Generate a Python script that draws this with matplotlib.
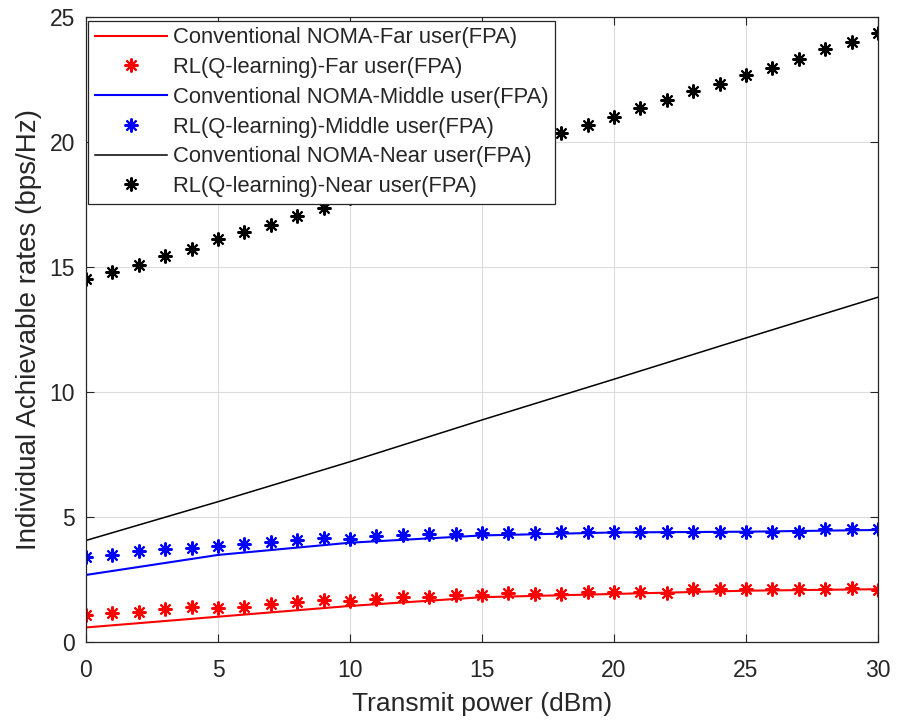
import numpy as np
import matplotlib
matplotlib.use("Agg")
import matplotlib.pyplot as plt

plt.rcParams['font.family'] = ['Liberation Sans', 'DejaVu Sans']

# Transmit power grid (dBm)
power_rl = list(range(0, 31))
power_conv = [0, 5, 10, 15, 20, 25, 30]

# Conventional NOMA rates (bps/Hz)
conv_far = [0.57, 1.00, 1.43, 1.78, 1.91, 2.04, 2.10]
conv_middle = [2.67, 3.47, 3.96, 4.25, 4.37, 4.40, 4.47]
conv_near = [4.05, 5.60, 7.20, 8.87, 10.50, 12.15, 13.78]

# Q-learning rates (bps/Hz)
rl_far = [1.07, 1.13, 1.20, 1.31, 1.37, 1.33, 1.40, 1.49, 1.57, 1.67, 1.64,
          1.72, 1.78, 1.78, 1.87, 1.86, 1.93, 1.91, 1.90, 2.00, 2.00,
          2.00, 1.96, 2.09, 2.09, 2.09, 2.09, 2.09, 2.09, 2.13, 2.07]
rl_middle = [3.40, 3.47, 3.64, 3.69, 3.73, 3.84, 3.89, 4.00, 4.07, 4.13, 4.10,
             4.23, 4.27, 4.29, 4.30, 4.33, 4.33, 4.33, 4.40, 4.40, 4.40,
             4.40, 4.40, 4.40, 4.40, 4.40, 4.40, 4.40, 4.49, 4.49, 4.49]
rl_near = [14.50, 14.77, 15.07, 15.43, 15.70, 16.10, 16.40, 16.67, 17.04, 17.36, 17.75,
           18.05, 18.35, 18.68, 19.00, 19.32, 19.65, 20.00, 20.34, 20.67, 21.00,
           21.36, 21.67, 22.04, 22.30, 22.67, 22.93, 23.30, 23.70, 24.00, 24.33]

x_ticks = [0, 5, 10, 15, 20, 25, 30]
y_ticks = [0, 5, 10, 15, 20, 25]

fig = plt.figure(figsize=(8.99, 7.22), dpi=100)
ax = fig.add_axes([86 / 899, 1 - 641.7 / 722, (878 - 86) / 899, (641.7 - 16.7) / 722])

asterisk = (8, 2, 0)
ms = 10
mew = 1.5

ax.plot(power_conv, conv_far, color='red', lw=1.5, label='Conventional NOMA-Far user(FPA)')
ax.plot(power_rl, rl_far, ls='none', marker=asterisk, ms=ms, mew=mew, color='red',
        label='RL(Q-learning)-Far user(FPA)')
ax.plot(power_conv, conv_middle, color='blue', lw=1.5, label='Conventional NOMA-Middle user(FPA)')
ax.plot(power_rl, rl_middle, ls='none', marker=asterisk, ms=ms, mew=mew, color='blue',
        label='RL(Q-learning)-Middle user(FPA)')
ax.plot(power_conv, conv_near, color='black', lw=1.1, label='Conventional NOMA-Near user(FPA)')
ax.plot(power_rl, rl_near, ls='none', marker=asterisk, ms=ms, mew=mew, color='black',
        label='RL(Q-learning)-Near user(FPA)')

ax.set_xlim(0, 30)
ax.set_ylim(0, 25)
ax.set_xticks(x_ticks)
ax.set_yticks(y_ticks)
ax.grid(True, color='#dcdcdc', lw=0.8)
ax.set_axisbelow(True)

for sp in ax.spines.values():
    sp.set_color('#262626')
    sp.set_linewidth(0.9)
ax.tick_params(direction='in', length=5.5, width=0.8, top=True, right=True,
               colors='#262626', labelsize=16.5)
ax.tick_params(axis='x', pad=12.5)
ax.tick_params(axis='y', pad=8)

ax.set_xlabel('Transmit power (dBm)', fontsize=19, color='#262626', labelpad=7)
ax.set_ylabel('Individual Achievable rates (bps/Hz)', fontsize=20, color='#262626', labelpad=5)

leg = ax.legend(loc='upper left', bbox_to_anchor=(2 / 792, 1 - 4 / 625), borderaxespad=0,
                fontsize=15.8, numpoints=1, handlelength=3.3, handletextpad=0.28,
                borderpad=0.3, labelspacing=0.40, fancybox=False, framealpha=1,
                edgecolor='#262626')
leg.get_frame().set_linewidth(0.9)
for t in leg.get_texts():
    t.set_color('#262626')

fig.savefig('out.png', dpi=100)
